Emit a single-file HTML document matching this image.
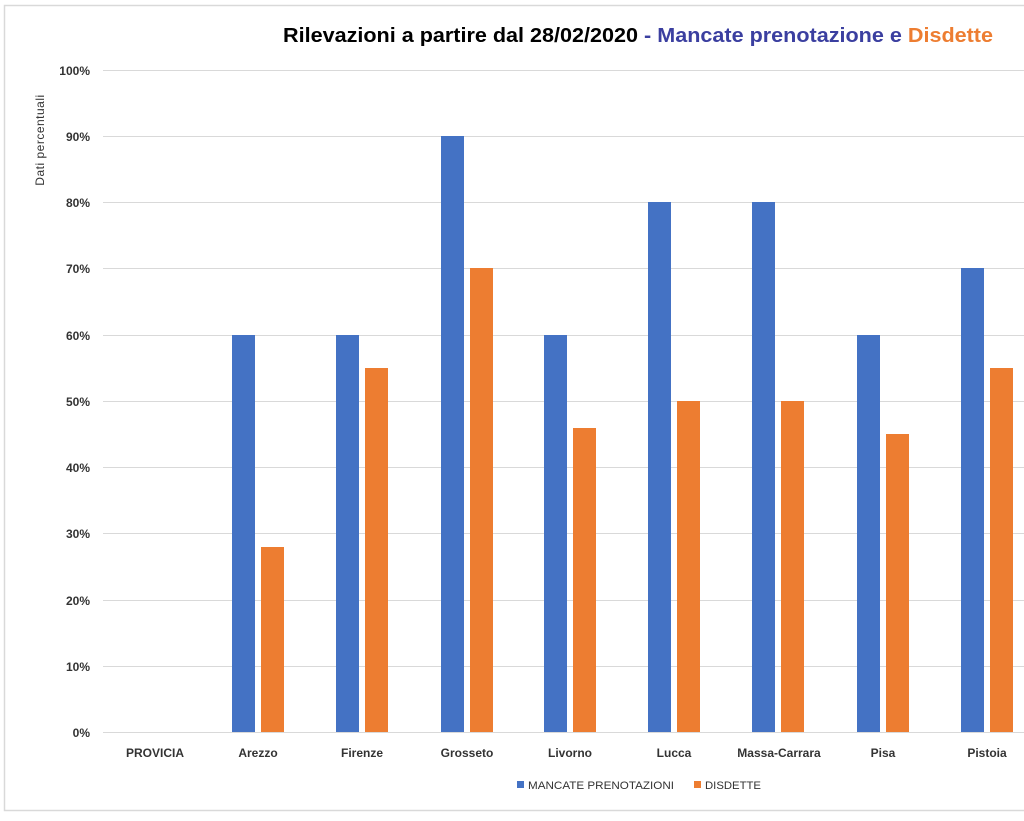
<!DOCTYPE html>
<html><head><meta charset="utf-8"><style>
html,body{margin:0;padding:0;background:#fff;}
svg{display:block;font-family:"Liberation Sans",sans-serif;}
</style></head><body>
<svg width="1024" height="821" viewBox="0 0 1024 821" xmlns="http://www.w3.org/2000/svg">
<rect x="0" y="0" width="1024" height="821" fill="#fff"/>
<rect x="4.5" y="5.5" width="1030" height="805" fill="none" stroke="#d9d9d9" stroke-width="1.5"/>
<text x="283" y="42" font-size="20" font-weight="bold" textLength="710" lengthAdjust="spacingAndGlyphs"><tspan fill="#000">Rilevazioni a partire dal 28/02/2020 </tspan><tspan fill="#3b3fa0">- Mancate prenotazione e </tspan><tspan fill="#ed7d31">Disdette</tspan></text>
<text transform="translate(44,140) rotate(-90)" font-size="12" text-anchor="middle" fill="#333" letter-spacing="0.5">Dati percentuali</text>
<g stroke="#d9d9d9" stroke-width="1">
<line x1="103" x2="1024" y1="70.5" y2="70.5"/><line x1="103" x2="1024" y1="136.5" y2="136.5"/><line x1="103" x2="1024" y1="202.5" y2="202.5"/><line x1="103" x2="1024" y1="268.5" y2="268.5"/><line x1="103" x2="1024" y1="335.5" y2="335.5"/><line x1="103" x2="1024" y1="401.5" y2="401.5"/><line x1="103" x2="1024" y1="467.5" y2="467.5"/><line x1="103" x2="1024" y1="533.5" y2="533.5"/><line x1="103" x2="1024" y1="600.5" y2="600.5"/><line x1="103" x2="1024" y1="666.5" y2="666.5"/><line x1="103" x2="1024" y1="732.5" y2="732.5"/>
</g>
<g font-size="12" font-weight="bold" text-anchor="end" fill="#333">
<text x="90" y="75">100%</text><text x="90" y="141">90%</text><text x="90" y="207">80%</text><text x="90" y="273">70%</text><text x="90" y="340">60%</text><text x="90" y="406">50%</text><text x="90" y="472">40%</text><text x="90" y="538">30%</text><text x="90" y="605">20%</text><text x="90" y="671">10%</text><text x="90" y="737">0%</text>
</g>
<g fill="#4472c4">
<rect x="232" y="335" width="23" height="397"/>
<rect x="336" y="335" width="23" height="397"/>
<rect x="441" y="136" width="23" height="596"/>
<rect x="544" y="335" width="23" height="397"/>
<rect x="648" y="202" width="23" height="530"/>
<rect x="752" y="202" width="23" height="530"/>
<rect x="857" y="335" width="23" height="397"/>
<rect x="961" y="268" width="23" height="464"/>
</g>
<g fill="#ed7d31">
<rect x="261" y="547" width="23" height="185"/>
<rect x="365" y="368" width="23" height="364"/>
<rect x="470" y="268" width="23" height="464"/>
<rect x="573" y="428" width="23" height="304"/>
<rect x="677" y="401" width="23" height="331"/>
<rect x="781" y="401" width="23" height="331"/>
<rect x="886" y="434" width="23" height="298"/>
<rect x="990" y="368" width="23" height="364"/>
</g>
<g font-size="12" font-weight="bold" text-anchor="middle" fill="#333">
<text x="155" y="757">PROVICIA</text><text x="258" y="757">Arezzo</text><text x="362" y="757">Firenze</text><text x="467" y="757">Grosseto</text><text x="570" y="757">Livorno</text><text x="674" y="757">Lucca</text><text x="779" y="757">Massa-Carrara</text><text x="883" y="757">Pisa</text><text x="987" y="757">Pistoia</text>
</g>
<rect x="517" y="781" width="7" height="7" fill="#4472c4"/>
<text x="528" y="789" font-size="11" fill="#333" textLength="146" lengthAdjust="spacingAndGlyphs">MANCATE PRENOTAZIONI</text>
<rect x="694" y="781" width="7" height="7" fill="#ed7d31"/>
<text x="705" y="789" font-size="11" fill="#333" textLength="56" lengthAdjust="spacingAndGlyphs">DISDETTE</text>
</svg>
</body></html>
